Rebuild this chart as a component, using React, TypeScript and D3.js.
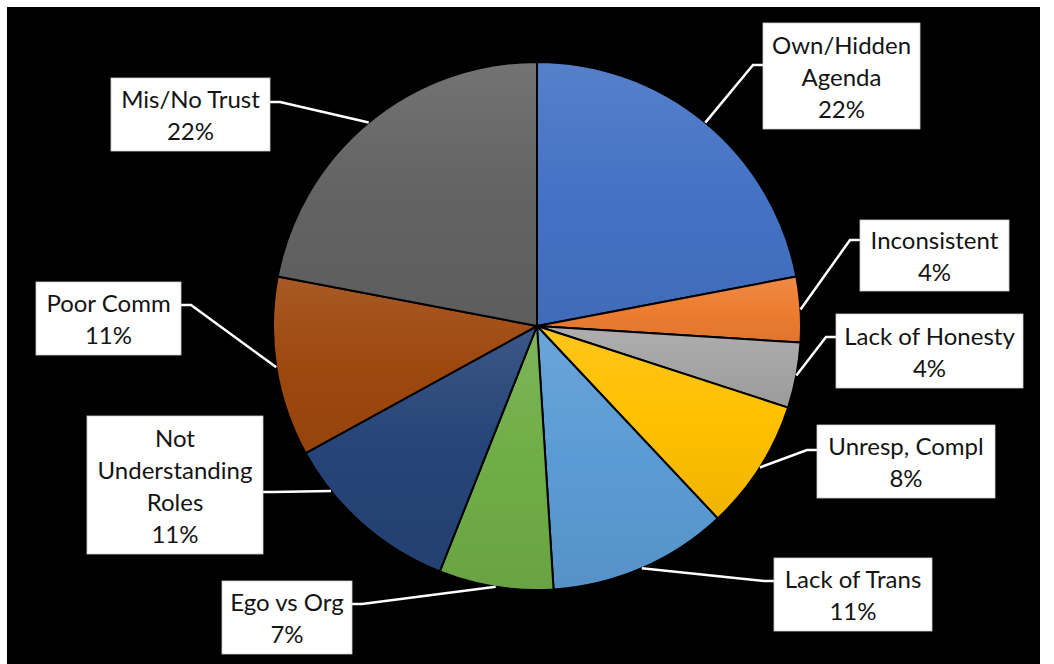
import React from "react";
import * as d3 from "d3";

// ---- data ----
const categories: string[] = [
  "Own/Hidden Agenda",
  "Inconsistent",
  "Lack of Honesty",
  "Unresp, Compl",
  "Lack of Trans",
  "Ego vs Org",
  "Not Understanding Roles",
  "Poor Comm",
  "Mis/No Trust",
];
const values: number[] = [22, 4, 4, 8, 11, 7, 11, 11, 22];
const labelLines: string[][] = [
  ["Own/Hidden", "Agenda"],
  ["Inconsistent"],
  ["Lack of Honesty"],
  ["Unresp, Compl"],
  ["Lack of Trans"],
  ["Ego vs Org"],
  ["Not", "Understanding", "Roles"],
  ["Poor Comm"],
  ["Mis/No Trust"],
];
const colors: string[] = [
  "#4472C4",
  "#ED7D31",
  "#A5A5A5",
  "#FFC000",
  "#5B9BD5",
  "#70AD47",
  "#264478",
  "#9E480E",
  "#636363",
];

// ---- layout (label boxes, placed manually as in the original) ----
type Box = { x: number; y: number; w: number; h: number; side: "L" | "R"; ay: number; frac: number };
const boxes: Box[] = [
  { x: 763, y: 23, w: 157, h: 106, side: "L", ay: 42, frac: 0.5 },
  { x: 860, y: 220, w: 149, h: 71, side: "L", ay: 20, frac: 0.5 },
  { x: 836, y: 314, w: 187, h: 74, side: "L", ay: 23, frac: 0.5 },
  { x: 817, y: 425, w: 178, h: 73, side: "L", ay: 25, frac: 0.5 },
  { x: 774, y: 558, w: 158, h: 73, side: "L", ay: 23, frac: 0.5 },
  { x: 222, y: 581, w: 130, h: 73, side: "R", ay: 23, frac: 0.5 },
  { x: 87, y: 416, w: 176, h: 138, side: "R", ay: 76, frac: 0.75 },
  { x: 36, y: 282, w: 145, h: 73, side: "R", ay: 23, frac: 0.5 },
  { x: 111, y: 78, w: 159, h: 73, side: "R", ay: 24, frac: 0.5 },
];

const W = 1054;
const H = 664;
const cx = 537;
const cy = 326;
const R = 264;
const LINE_H = 32;

function lighten(c: string, t: number) {
  return d3.interpolateRgb(c, "#ffffff")(t);
}
function darken(c: string, t: number) {
  return d3.interpolateRgb(c, "#000000")(t);
}

export default function App() {
  const total = d3.sum(values);
  const pct = d3.format(".0%");
  const pie = d3
    .pie<number>()
    .sort(null)
    .value((d) => d)
    .startAngle(0)
    .endAngle(2 * Math.PI);
  const arcs = pie(values);
  const arcGen = d3.arc<d3.PieArcDatum<number>>().innerRadius(0).outerRadius(R);

  return (
    <svg
      width={W}
      height={H}
      style={{ position: "absolute", left: 0, top: 0 }}
      fontFamily="Lato, 'Open Sans', sans-serif"
    >
      <defs>
        {colors.map((c, i) => (
          <linearGradient key={i} id={`g${i}`} x1="0" y1="0" x2="0" y2="1">
            <stop offset="0" stopColor={lighten(c, 0.1)} />
            <stop offset="0.5" stopColor={c} />
            <stop offset="1" stopColor={darken(c, 0.06)} />
          </linearGradient>
        ))}
      </defs>
      <rect x={0} y={0} width={W} height={H} fill="#ffffff" />
      <rect x={7} y={7} width={1033} height={H - 7} fill="#000000" />
      <g transform={`translate(${cx},${cy})`}>
        {arcs.map((a, i) => (
          <path
            key={categories[i]}
            d={arcGen(a) || ""}
            fill={`url(#g${i})`}
            stroke="#000"
            strokeWidth={2}
            strokeLinejoin="round"
          />
        ))}
      </g>
      {arcs.map((a, i) => {
        const b = boxes[i];
        const ang = a.startAngle + (a.endAngle - a.startAngle) * b.frac;
        const px = cx + R * Math.sin(ang);
        const py = cy - R * Math.cos(ang);
        const attachX = b.side === "L" ? b.x : b.x + b.w;
        const attachY = b.y + b.ay;
        const elbowX = b.side === "L" ? attachX - 10 : attachX + 10;
        const line = d3.line()([
          [px, py],
          [elbowX, attachY],
          [attachX, attachY],
        ]);
        return (
          <path
            key={"l" + i}
            d={line || ""}
            fill="none"
            stroke="#ffffff"
            strokeWidth={2.5}
          />
        );
      })}
      {arcs.map((a, i) => {
        const b = boxes[i];
        const lines = [...labelLines[i], pct(values[i] / total)];
        const mid = b.y + b.h / 2;
        return (
          <g key={"b" + i}>
            <rect x={b.x} y={b.y} width={b.w} height={b.h} fill="#ffffff" stroke="#d0d0d0" strokeWidth={0.8} />
            {lines.map((t, j) => (
              <text
                key={j}
                x={b.x + b.w / 2}
                y={mid + (j - (lines.length - 1) / 2) * LINE_H}
                textAnchor="middle"
                dominantBaseline="central"
                fontSize={24}
                fill="#141414"
              >
                {t}
              </text>
            ))}
          </g>
        );
      })}
    </svg>
  );
}
